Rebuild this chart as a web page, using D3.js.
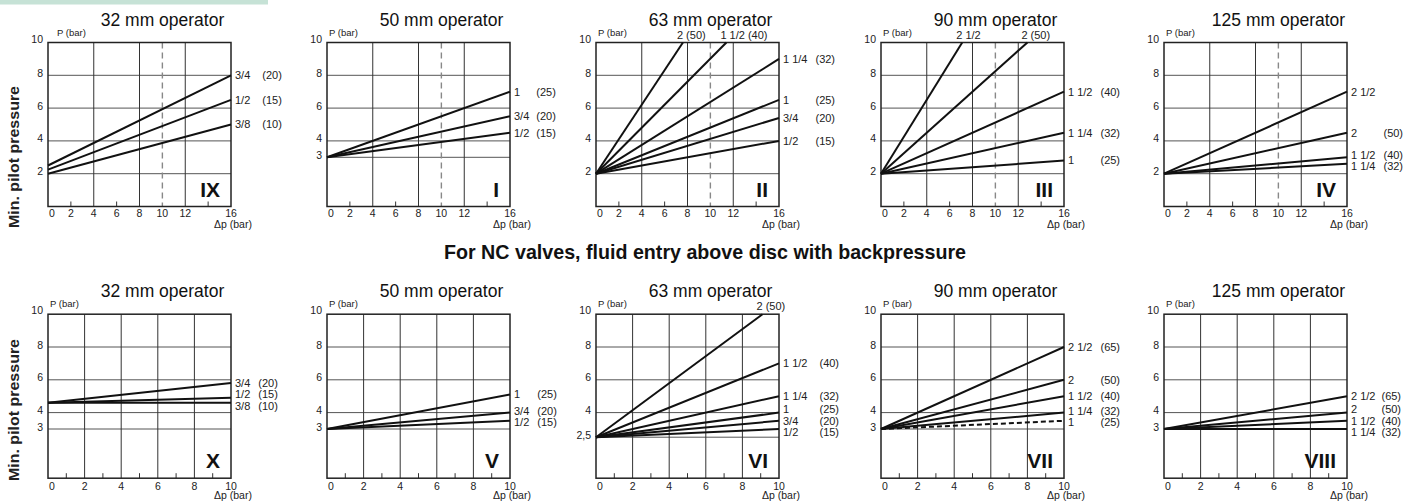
<!DOCTYPE html>
<html>
<head>
<meta charset="utf-8">
<script src="https://d3js.org/d3.v7.min.js"></script>
<style>
body { margin:0; background:#fff; }
text { font-family:'Liberation Sans', Arial, Helvetica, sans-serif; fill:#222; }
</style>
</head>
<body>
<svg id="viewer"></svg>
<script>
// ---- data: top row (x 0..16 bar) ----
var sizesIX = ['3/4','1/2','3/8'];
var dnIX = ['(20)','(15)','(10)'];
var linesIX = [[[0,2.5],[16,8]], [[0,2.25],[16,6.5]], [[0,2],[16,5]]];

var sizesI = ['1','3/4','1/2'];
var dnI = ['(25)','(20)','(15)'];
var linesI = [[[0,3],[16,7]], [[0,3],[16,5.5]], [[0,3],[16,4.5]]];

var sizesII = ['2','1 1/2','1 1/4','1','3/4','1/2'];
var dnII = ['(50)','(40)','(32)','(25)','(20)','(15)'];
var linesII = [[[0,2],[7.6,10]], [[0,2],[11.4,10]], [[0,2],[16,9]], [[0,2],[16,6.5]], [[0,2],[16,5.4]], [[0,2],[16,4]]];

var sizesIII = ['2 1/2','2','1 1/2','1 1/4','1'];
var dnIII = ['','(50)','(40)','(32)','(25)'];
var linesIII = [[[0,2],[7.1,10]], [[0,2],[12.8,10]], [[0,2],[16,7]], [[0,2],[16,4.5]], [[0,2],[16,2.8]]];

var sizesIV = ['2 1/2','2','1 1/2','1 1/4'];
var dnIV = ['','(50)','(40)','(32)'];
var linesIV = [[[0,2],[16,7]], [[0,2],[16,4.5]], [[0,2],[16,3]], [[0,2],[16,2.6]]];

// ---- data: bottom row (x 0..10 bar) ----
var sizesX = ['3/4','1/2','3/8'];
var dnX = ['(20)','(15)','(10)'];
var linesX = [[[0,4.6],[10,5.8]], [[0,4.6],[10,4.9]], [[0,4.6],[10,4.6]]];

var sizesV = ['1','3/4','1/2'];
var dnV = ['(25)','(20)','(15)'];
var linesV = [[[0,3],[10,5.1]], [[0,3],[10,4]], [[0,3],[10,3.5]]];

var sizesVI = ['2','1 1/2','1 1/4','1','3/4','1/2'];
var dnVI = ['(50)','(40)','(32)','(25)','(20)','(15)'];
var linesVI = [[[0,2.5],[9.1,10]], [[0,2.5],[10,7]], [[0,2.5],[10,5]], [[0,2.5],[10,4]], [[0,2.5],[10,3.5]], [[0,2.5],[10,3]]];

var sizesVII = ['2 1/2','2','1 1/2','1 1/4','1'];
var dnVII = ['(65)','(50)','(40)','(32)','(25)'];
var linesVII = [[[0,3],[10,8]], [[0,3],[10,6]], [[0,3],[10,5]], [[0,3],[10,4]], [[0,3],[10,3.5]]];

var sizesVIII = ['2 1/2','2','1 1/2','1 1/4'];
var dnVIII = ['(65)','(50)','(40)','(32)'];
var linesVIII = [[[0,3],[10,5]], [[0,3],[10,4]], [[0,3],[10,3.5]], [[0,3],[10,3]]];

var titles = ['32 mm operator','50 mm operator','63 mm operator','90 mm operator','125 mm operator'];
var numeralsTop = ['IX','I','II','III','IV'];
var numeralsBottom = ['X','V','VI','VII','VIII'];

var yTicksA = [2,4,6,8,10];
var yTicksB = [3,4,6,8,10];
var yTicksC = [2.5,4,6,8,10];

var xLabelsTop = [0,2,4,6,8,10,12,16];
var xGridTop = [4,8,12];
var xMinorTop = [2,6,14];
var xLabelsBottom = [0,2,4,6,8,10];
var xGridBottom = [2,4,6,8];
var xMinorBottom = [1,3,5,7,9];

var heading = 'For NC valves, fluid entry above disc with backpressure';
var yTitle = 'Min. pilot pressure';

// ---- layout ----
var W = 1418, H = 502;
var colLeft = [48,327,596,881,1164];
var boxW = 183;
var rowTop = [42.5,314.2];
var boxH = 164;

var fmt = d3.formatLocale({decimal:',', thousands:'.', grouping:[3], currency:['','']}).format('');

var panels = [
  {col:0,row:0,sizes:sizesIX,dn:dnIX,lines:linesIX,yTicks:yTicksA,gap:12},
  {col:1,row:0,sizes:sizesI,dn:dnI,lines:linesI,yTicks:yTicksB,gap:7},
  {col:2,row:0,sizes:sizesII,dn:dnII,lines:linesII,yTicks:yTicksA,gap:8},
  {col:3,row:0,sizes:sizesIII,dn:dnIII,lines:linesIII,yTicks:yTicksA,gap:8},
  {col:4,row:0,sizes:sizesIV,dn:dnIV,lines:linesIV,yTicks:yTicksA,gap:8},
  {col:0,row:1,sizes:sizesX,dn:dnX,lines:linesX,yTicks:yTicksB,gap:8},
  {col:1,row:1,sizes:sizesV,dn:dnV,lines:linesV,yTicks:yTicksB,gap:8},
  {col:2,row:1,sizes:sizesVI,dn:dnVI,lines:linesVI,yTicks:yTicksC,gap:12},
  {col:3,row:1,sizes:sizesVII,dn:dnVII,lines:linesVII,yTicks:yTicksB,gap:8,dashed:4},
  {col:4,row:1,sizes:sizesVIII,dn:dnVIII,lines:linesVIII,yTicks:yTicksB,gap:6}
];

var viewer = d3.select('#viewer')
  .attr('width',W)
  .attr('height',H);

// light band top left
viewer.append('rect')
  .attr('x',0).attr('y',0)
  .attr('width',268).attr('height',4.5)
  .attr('fill','#c6e2d6');

viewer.append('text')
  .attr('x',705).attr('y',259)
  .attr('text-anchor','middle')
  .attr('font-size',20.5)
  .attr('font-weight','bold')
  .attr('textLength',522)
  .attr('lengthAdjust','spacingAndGlyphs')
  .style('fill','#111')
  .text(heading);

[157,410].forEach(function(cy){
  viewer.append('text')
    .attr('transform','translate(19,'+cy+') rotate(-90)')
    .attr('text-anchor','middle')
    .attr('font-size',14)
    .attr('font-weight','bold')
    .attr('textLength',142)
    .attr('lengthAdjust','spacingAndGlyphs')
    .text(yTitle);
});

function relax(items, minGap)
{
  items.sort(function(a,b){return a.y-b.y;});
  for (var it=0; it<60; it++) {
    for (var i=1; i<items.length; i++) {
      var d = items[i].y - items[i-1].y;
      if (d < minGap) {
        var s = (minGap-d)/2;
        items[i].y += s;
        items[i-1].y -= s;
      }
    }
  }
}

panels.forEach(function(p){
  var top = p.row===0;
  var left = colLeft[p.col], right = left+boxW;
  var y0 = rowTop[p.row], y1 = y0+boxH;
  var xMax = top ? 16 : 10;

  var x = d3.scaleLinear().domain([0,xMax]).range([left,right]);
  var y = d3.scaleLinear().domain([0,10]).range([y1,y0]);

  var g = viewer.append('g').attr('class','panel');

  // grid
  g.selectAll('.hgrid').data(p.yTicks.filter(function(v){return v<10;}))
    .enter().append('line')
      .attr('x1',left).attr('x2',right)
      .attr('y1',function(d){return y(d);}).attr('y2',function(d){return y(d);})
      .attr('stroke','#555').attr('stroke-width',1);

  g.selectAll('.vgrid').data(top ? xGridTop : xGridBottom)
    .enter().append('line')
      .attr('x1',function(d){return x(d);}).attr('x2',function(d){return x(d);})
      .attr('y1',y0).attr('y2',y1)
      .attr('stroke','#333').attr('stroke-width',1);

  g.selectAll('.minor').data(top ? xMinorTop : xMinorBottom)
    .enter().append('line')
      .attr('x1',function(d){return x(d);}).attr('x2',function(d){return x(d);})
      .attr('y1',y1).attr('y2',y1-5)
      .attr('stroke','#333').attr('stroke-width',1);

  if (top) {
    g.append('line')
      .attr('x1',x(10)).attr('x2',x(10))
      .attr('y1',y0).attr('y2',y1)
      .attr('stroke','#888').attr('stroke-width',1.4)
      .attr('stroke-dasharray','6,4');
  }

  // frame
  g.append('rect')
    .attr('x',left).attr('y',y0)
    .attr('width',boxW).attr('height',boxH)
    .attr('fill','none').attr('stroke','#222').attr('stroke-width',1.5);

  // y tick labels
  g.selectAll('.ylab').data(p.yTicks)
    .enter().append('text')
      .attr('x',left-5)
      .attr('y',function(d){return y(d)+(d===10?0:1.5);})
      .attr('text-anchor','end')
      .attr('font-size',10.5)
      .text(function(d){return fmt(d);});

  g.append('text')
    .attr('x',left+(p.col===0&&top?9:2)).attr('y',y0-7)
    .attr('font-size',9.5)
    .text('P (bar)');

  // x tick labels
  g.selectAll('.xlab').data(top ? xLabelsTop : xLabelsBottom)
    .enter().append('text')
      .attr('x',function(d){return x(d)+(d===0?4:0);})
      .attr('y',y1+(top?10:11.5))
      .attr('text-anchor','middle')
      .attr('font-size',10.5)
      .text(function(d){return d;});

  g.append('text')
    .attr('x',right+2).attr('y',y1+21)
    .attr('text-anchor','middle')
    .attr('font-size',10.5)
    .text('\u0394p (bar)');

  // title
  g.append('text')
    .attr('x',(left+right)/2+23).attr('y',y0-17)
    .attr('text-anchor','middle')
    .attr('font-size',17.5)
    .style('fill','#111')
    .text(titles[p.col]);

  // numeral
  g.append('text')
    .attr('x',right-11).attr('y',y1-10)
    .attr('text-anchor','end')
    .attr('font-size',21)
    .attr('font-weight','bold')
    .style('fill','#111')
    .text(top ? numeralsTop[p.col] : numeralsBottom[p.col]);

  // curves
  var line = d3.line().x(function(d){return x(d[0]);}).y(function(d){return y(d[1]);});
  g.selectAll('.curve').data(p.lines)
    .enter().append('path')
      .attr('d',line)
      .attr('fill','none')
      .attr('stroke','#111')
      .attr('stroke-width',2)
      .attr('stroke-dasharray',function(d,i){return i===p.dashed?'5,3':null;});

  // labels
  var rightItems = [];
  p.lines.forEach(function(l,i){
    var end = l[l.length-1];
    if (end[1] >= 10) {
      g.append('text')
        .attr('x',x(end[0])-6).attr('y',y0-4)
        .attr('font-size',11)
        .text(p.sizes[i] + (p.dn[i] ? ' ' + p.dn[i] : ''));
    } else {
      rightItems.push({i:i, y:y(end[1])});
    }
  });
  relax(rightItems, 11.5);

  var sizeTexts = rightItems.map(function(it){
    return g.append('text')
      .attr('x',right+4).attr('y',it.y)
      .attr('dy','0.35em')
      .attr('font-size',11)
      .text(p.sizes[it.i]);
  });
  var maxW = d3.max(sizeTexts, function(t){return t.node().getComputedTextLength();}) || 0;
  rightItems.forEach(function(it){
    if (!p.dn[it.i]) return;
    g.append('text')
      .attr('x',right+4+maxW+p.gap).attr('y',it.y)
      .attr('dy','0.35em')
      .attr('font-size',11)
      .text(p.dn[it.i]);
  });
});
</script>
</body>
</html>
